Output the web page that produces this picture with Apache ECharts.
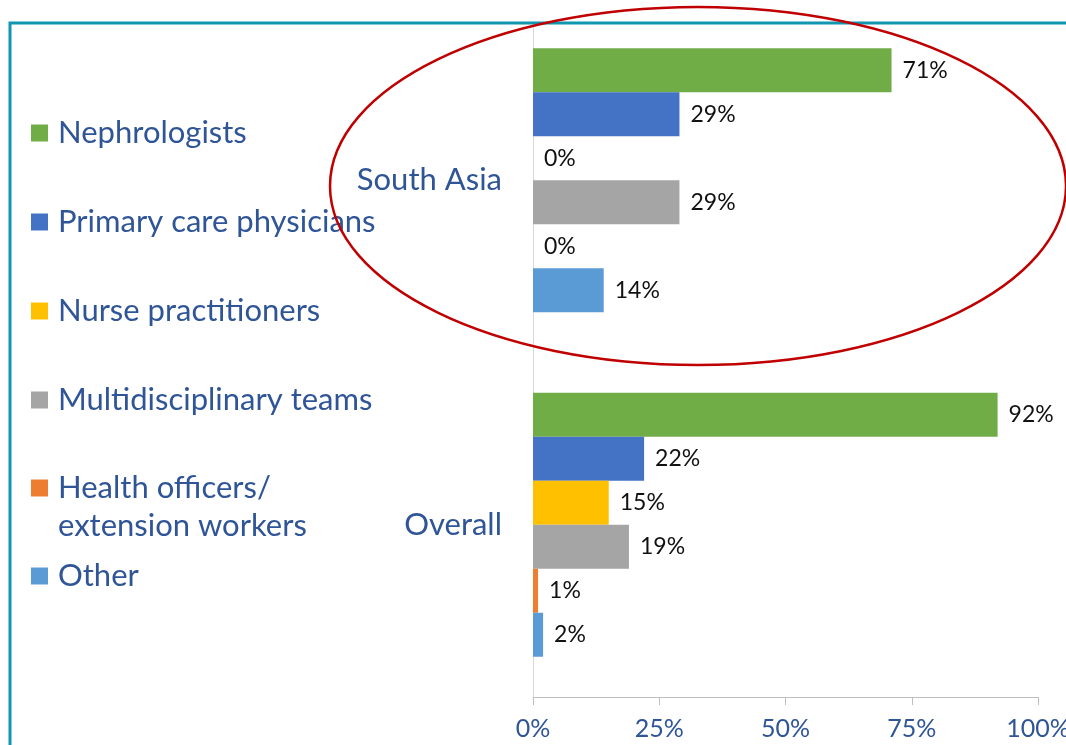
<!DOCTYPE html>
<html>
<head>
<meta charset="utf-8">
<script src="https://cdn.jsdelivr.net/npm/echarts@6/dist/echarts.min.js"></script>
<style>
html, body { margin: 0; padding: 0; background: #fff; }
#main { width: 1066px; height: 745px; }
</style>
</head>
<body>
<div id="main"></div>
<script>
// data
var regions = ['South Asia', 'Overall'];
var groupNames = ['Nephrologists', 'Primary care physicians', 'Nurse practitioners',
    'Multidisciplinary teams', 'Health officers/\nextension workers', 'Other'];
var nephrologists = [71, 92];
var primaryCare = [29, 22];
var nursePractitioners = [0, 15];
var multidisciplinary = [29, 19];
var healthOfficers = [0, 1];
var other = [14, 2];
var xTicks = [0, 25, 50, 75, 100];

var groupValues = [nephrologists, primaryCare, nursePractitioners, multidisciplinary, healthOfficers, other];
var colors = ['#70AD47', '#4472C4', '#FFC000', '#A5A5A5', '#ED7D31', '#5B9BD5'];
var font = 'Lato';
var blue = '#2F5597';

var myChart = echarts.init(document.getElementById('main'));

var series = [];
for (var i = 0; i < groupNames.length; i++) {
    series.push({
        name: groupNames[i],
        type: 'bar',
        barWidth: 44,
        barGap: '0%',
        itemStyle: { color: colors[i] },
        label: {
            show: true,
            position: 'right',
            distance: 11,
            formatter: '{c}%',
            color: '#111',
            fontFamily: font,
            fontSize: 23
        },
        data: groupValues[i]
    });
}

var legendText = { fontFamily: font, fontSize: 31, color: blue, lineHeight: 38, padding: [0, 0, 0, 5] };

var option = {
    animation: false,
    color: colors,
    grid: { left: 533, right: 28, top: 8, bottom: 48, outerBoundsMode: 'none' },
    legend: [
        {
            orient: 'vertical', left: 31, top: 114, padding: 0,
            itemWidth: 17, itemHeight: 17, itemGap: 51, icon: 'rect',
            textStyle: legendText,
            data: groupNames.slice(0, 4)
        },
        {
            // blank first line keeps the marker level with "Health officers/"
            orient: 'vertical', left: 31, top: 431, padding: 0,
            itemWidth: 17, itemHeight: 17, icon: 'rect',
            formatter: '\n{name}',
            textStyle: legendText,
            data: groupNames.slice(4, 5)
        },
        {
            orient: 'vertical', left: 31, top: 557, padding: 0,
            itemWidth: 17, itemHeight: 17, icon: 'rect',
            textStyle: legendText,
            data: groupNames.slice(5)
        }
    ],
    xAxis: {
        type: 'value',
        min: xTicks[0],
        max: xTicks[xTicks.length - 1],
        interval: xTicks[1] - xTicks[0],
        axisLine: { show: true, lineStyle: { color: '#BFBFBF', width: 1 } },
        axisTick: { show: true, length: 8, lineStyle: { color: '#BFBFBF' } },
        splitLine: { show: false },
        axisLabel: { formatter: '{value}%', color: blue, fontFamily: font, fontSize: 25, margin: 19 }
    },
    yAxis: {
        type: 'category',
        inverse: true,
        data: regions,
        axisLine: { show: true, lineStyle: { color: '#D9D9D9', width: 1 } },
        axisTick: { show: false },
        axisLabel: { color: blue, fontFamily: font, fontSize: 31, margin: 31 }
    },
    graphic: [
        // page frame
        { type: 'rect', z: 50, shape: { x: 10, y: 23, width: 1100, height: 800 },
          style: { fill: 'none', stroke: '#1196B0', lineWidth: 3 } },
        // hide axis line above the frame
        { type: 'rect', z: 40, shape: { x: 528, y: 0, width: 10, height: 21 },
          style: { fill: '#fff' } },
        // red highlight ellipse
        { type: 'ellipse', z: 60, shape: { cx: 698, cy: 186, rx: 368, ry: 179 },
          style: { fill: 'none', stroke: '#C00000', lineWidth: 2.5 } }
    ],
    series: series
};

myChart.setOption(option);
</script>
</body>
</html>
